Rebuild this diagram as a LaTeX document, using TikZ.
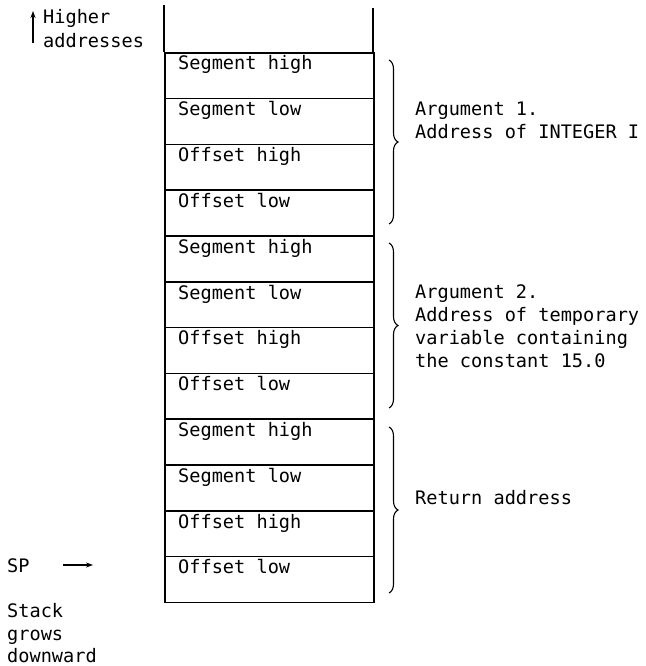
\documentclass[tikz,border=0pt]{standalone}
\usepackage{fontspec}
\newfontfamily\mono{DejaVu Sans Mono}
\usetikzlibrary{arrows.meta,decorations.pathreplacing,calc}
\begin{document}
\begin{tikzpicture}[x=1pt,y=-1pt,
  cell/.style={draw,line width=1.6pt,minimum width=209pt,minimum height=45.8pt,inner sep=0pt,anchor=north west},
  ctext/.style={anchor=base west,inner sep=0pt,font=\mono\fontsize{18.6}{23}\selectfont},
  grpbrace/.style={decorate,decoration={brace,amplitude=9pt},line width=1.1pt},
  smallarrow/.style={line width=1.1pt,-{Stealth[length=7pt,width=5pt]}}]
\useasboundingbox (0,0) rectangle (645,666);
% open top of stack
\draw[line width=1.6pt] (164,5) -- (164,52);
\draw[line width=1.6pt] (373,8) -- (373,52);
% cells
\foreach \i/\t in {0/Segment high,1/Segment low,2/Offset high,3/Offset low,
                   4/Segment high,5/Segment low,6/Offset high,7/Offset low,
                   8/Segment high,9/Segment low,10/Offset high,11/Offset low}{
  \node[cell] (c\i) at (164,{52+45.8*\i}) {};
  \node[ctext] (t\i) at ($(c\i.north west)+(14,18)$) {\t};
}
% braces
\coordinate (b1s) at (389,60);  \coordinate (b1e) at (389,224);
\coordinate (b2s) at (389,243); \coordinate (b2e) at (389,408);
\coordinate (b3s) at (389,427); \coordinate (b3e) at (389,593);
\draw[grpbrace] (b1s) -- (b1e);
\draw[grpbrace] (b2s) -- (b2e);
\draw[grpbrace] (b3s) -- (b3e);
% group labels
\node[ctext] (g1a) at (415,116) {Argument 1.};
\node[ctext] (g1b) at (415,139) {Address of INTEGER I};
\node[ctext] (g2a) at (415,298) {Argument 2.};
\node[ctext] (g2b) at (415,321) {Address of temporary};
\node[ctext] (g2c) at (415,344) {variable containing};
\node[ctext] (g2d) at (415,367) {the constant 15.0};
\node[ctext] (g3) at (415,504) {Return address};
% higher addresses
\node[ctext] (hi1) at (43,24) {Higher};
\node[ctext] (hi2) at (43,48) {addresses};
\coordinate (hia) at (33,43); \coordinate (hib) at (33,11);
\draw[smallarrow] (hia) -- (hib);
% SP
\node[ctext] (sp) at (7,572) {SP};
\coordinate (spa) at (63,565); \coordinate (spb) at (93,565);
\draw[smallarrow] (spa) -- (spb);
% stack grows downward
\node[ctext] (gr1) at (7,617) {Stack};
\node[ctext] (gr2) at (7,640) {grows};
\node[ctext] (gr3) at (7,662) {downward};
\end{tikzpicture}
\end{document}
